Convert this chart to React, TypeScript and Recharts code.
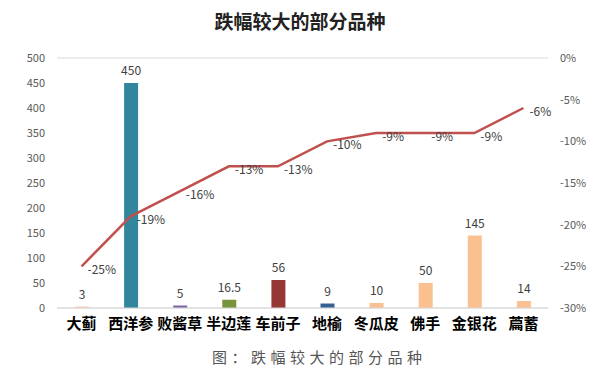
import { ComposedChart, Bar, Line, XAxis, YAxis, CartesianGrid, Cell, LabelList } from "recharts";

const categories = ["大蓟", "西洋参", "败酱草", "半边莲", "车前子", "地榆", "冬瓜皮", "佛手", "金银花", "萹蓄"];
const amounts = [3, 450, 5, 16.5, 56, 9, 10, 50, 145, 14];
const declines = [-25, -19, -16, -13, -13, -10, -9, -9, -9, -6];
const barColors = ["#F8CBAD", "#31859C", "#8064A2", "#77933C", "#953735", "#376092", "#FAC090", "#FAC090", "#FAC090", "#FAC090"];
const leftTicks = [0, 50, 100, 150, 200, 250, 300, 350, 400, 450, 500];
const rightTicks = [-30, -25, -20, -15, -10, -5, 0];

const data = categories.map((name, i) => ({ name, amount: amounts[i], decline: declines[i] }));

const font = "'Noto Sans CJK SC', 'Noto Sans', sans-serif";

const PctLabel = (props: any) => {
  const { x, y, value } = props;
  return (
    <text x={x + 6} y={y + 8} fontSize={12} fill="#404040" fontFamily={font} textAnchor="start">
      {`${value}%`}
    </text>
  );
};

export default function App() {
  return (
    <div style={{ position: "relative", width: 600, height: 391, margin: -8, background: "#fff", fontFamily: font }}>
      <div style={{ position: "absolute", top: 7, left: 0, width: 600, textAlign: "center", fontSize: 19, fontWeight: 700, color: "#222" }}>
        跌幅较大的部分品种
      </div>
      <div style={{ position: "absolute", top: 346, left: 212, whiteSpace: "nowrap", fontSize: 15, color: "#555", letterSpacing: 4.5 }}>
        图：跌幅较大的部分品种
      </div>
      <div style={{ position: "absolute", top: 0, left: 0 }}>
        <ComposedChart width={600} height={340} data={data} margin={{ top: 58, right: 0, bottom: 0, left: 0 }}>
          <CartesianGrid vertical={false} stroke="#d9d9d9" />
          <XAxis
            dataKey="name"
            height={32}
            axisLine={{ stroke: "#d9d9d9" }}
            tickLine={false}
            interval={0}
            tick={{ fontSize: 15, fontWeight: 700, fill: "#000", fontFamily: font }}
            tickMargin={4}
          />
          <YAxis
            yAxisId="left"
            width={57}
            domain={[0, 500]}
            ticks={leftTicks}
            axisLine={false}
            tickLine={false}
            tick={{ fontSize: 11, fill: "#595959", fontFamily: font }}
            tickMargin={6}
          />
          <YAxis
            yAxisId="right"
            orientation="right"
            width={52}
            domain={[-30, 0]}
            ticks={rightTicks}
            tickFormatter={(v: number) => `${v}%`}
            axisLine={false}
            tickLine={false}
            tick={{ fontSize: 11, fill: "#595959", fontFamily: font }}
            tickMargin={6}
          />
          <Bar yAxisId="left" dataKey="amount" barSize={14} isAnimationActive={false}>
            {data.map((_, i) => (
              <Cell key={i} fill={barColors[i]} />
            ))}
            <LabelList dataKey="amount" position="top" offset={8} fontSize={12} fill="#404040" fontFamily={font} />
          </Bar>
          <Line
            yAxisId="right"
            dataKey="decline"
            stroke="#C0504D"
            strokeWidth={2.5}
            dot={false}
            type="linear"
            isAnimationActive={false}
          >
            <LabelList dataKey="decline" content={<PctLabel />} />
          </Line>
        </ComposedChart>
      </div>
    </div>
  );
}
